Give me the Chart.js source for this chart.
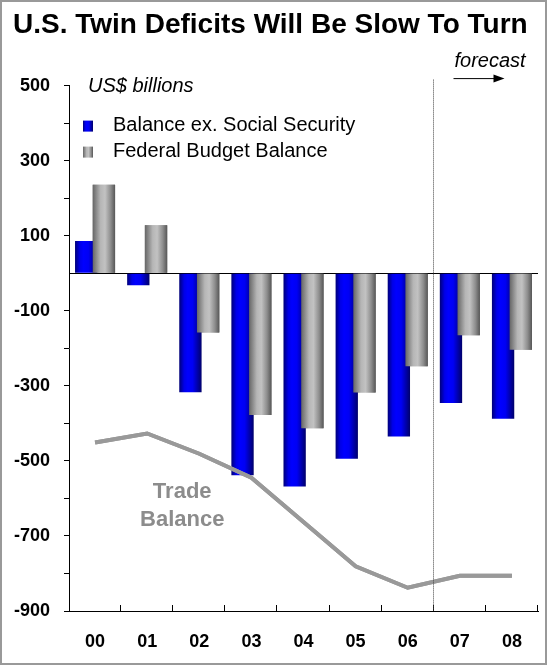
<!DOCTYPE html>
<html>
<head>
<meta charset="utf-8">
<title>U.S. Twin Deficits</title>
<script src="https://cdn.jsdelivr.net/npm/chart.js@4.4.0/dist/chart.umd.min.js"></script>
<style>
  html, body { margin: 0; padding: 0; background: #fff; }
  #wrap { position: relative; width: 547px; height: 666px; }
</style>
</head>
<body>
<div id="wrap"><canvas id="myChart"></canvas></div>
<script>
// fiscal years, US$ billions
const years = ['00', '01', '02', '03', '04', '05', '06', '07', '08'];
const balanceExSS = [86, -32, -317, -538, -568, -494, -435, -346, -388];
const federalBudget = [236, 128, -158, -378, -413, -318, -248, -165, -204];
const tradeBalance = [-451, -427, -481, -545, -663, -781, -838, -806, -806];

const yMin = -900, yMax = 500, yStep = 100;
const yLabelStep = 200;
const forecastFrom = 7; // index of first forecast year

const FONT = '"Liberation Sans", Arial, Helvetica, sans-serif';
const CAT_PCT = 0.68, BAR_PCT = 1.26;

// horizontal shading across each bar, like a cylinder
const blueStops = [[0, '#000078'], [0.22, '#0000e8'], [0.38, '#0000ff'], [0.6, '#0000f4'], [1, '#00006a']];
const grayStops = [[0, '#666666'], [0.35, '#b6b6b6'], [0.55, '#c2c2c2'], [0.8, '#8e8e8e'], [1, '#575757']];

function shade(ctx, x0, x1, stops) {
  const g = ctx.createLinearGradient(x0, 0, x1, 0);
  stops.forEach(s => g.addColorStop(s[0], s[1]));
  return g;
}

function barFill(stops, side) {
  return function (c) {
    const chart = c.chart;
    const x = chart.scales && chart.scales.x;
    if (!x || c.dataIndex === undefined) return stops[2][1];
    const cw = x.width / years.length;
    const slot = cw * CAT_PCT / 2;
    const w = slot * BAR_PCT;
    const cx = x.getPixelForValue(c.dataIndex) + side * slot / 2;
    if (!isFinite(cx) || !isFinite(w) || w <= 0) return stops[2][1];
    return shade(chart.ctx, cx - w / 2, cx + w / 2, stops);
  };
}

const extras = {
  id: 'extras',
  afterDatasetsDraw(chart) {
    // gray bars overlap the blue ones, trade line sits above both
    const ctx = chart.ctx, a = chart.chartArea;
    ctx.save();
    ctx.beginPath();
    ctx.rect(a.left, a.top - 2, a.right - a.left, a.bottom - a.top + 4);
    ctx.clip();
    chart.getDatasetMeta(1).controller.draw();
    chart.getDatasetMeta(2).controller.draw();
    ctx.restore();
  },
  afterDraw(chart) {
    const ctx = chart.ctx, a = chart.chartArea;
    const xs = chart.scales.x, ys = chart.scales.y;
    const cw = xs.width / years.length;
    ctx.save();

    // category ticks pointing up from the x axis
    ctx.strokeStyle = '#000';
    ctx.lineWidth = 1;
    for (let i = 1; i <= years.length; i++) {
      const px = Math.round(xs.left + i * cw) - 0.5;
      ctx.beginPath();
      ctx.moveTo(px, a.bottom);
      ctx.lineTo(px, a.bottom - 6);
      ctx.stroke();
    }

    // forecast divider
    const fx = Math.round((xs.getPixelForValue(forecastFrom - 1) + xs.getPixelForValue(forecastFrom)) / 2) - 0.5;
    ctx.strokeStyle = '#444';
    ctx.setLineDash([1, 1]);
    ctx.beginPath();
    ctx.moveTo(fx, a.top - 6);
    ctx.lineTo(fx, a.bottom);
    ctx.stroke();
    ctx.setLineDash([]);

    ctx.fillStyle = '#000';
    ctx.strokeStyle = '#000';
    ctx.font = 'italic 20px ' + FONT;
    ctx.textBaseline = 'middle';
    ctx.textAlign = 'left';
    ctx.fillText('forecast', fx + 21, a.top - 24);
    // arrow
    const ay = a.top - 7;
    ctx.beginPath();
    ctx.moveTo(fx + 20, ay);
    ctx.lineTo(fx + 61, ay);
    ctx.stroke();
    ctx.beginPath();
    ctx.moveTo(fx + 71, ay);
    ctx.lineTo(fx + 60, ay - 4);
    ctx.lineTo(fx + 60, ay + 4);
    ctx.closePath();
    ctx.fill();

    // units
    ctx.fillText('US$ billions', a.left + 19, ys.getPixelForValue(yMax) + 1);

    // legend
    const ds = chart.data.datasets;
    const legendRows = [[ds[0].label, blueStops], [ds[1].label, grayStops]];
    ctx.font = '20px ' + FONT;
    legendRows.forEach((r, i) => {
      const ly = a.top + 40 + i * 26;
      const sx = a.left + 14;
      ctx.fillStyle = shade(ctx, sx, sx + 10, r[1]);
      ctx.fillRect(sx, ly - 5, 10, 11);
      ctx.fillStyle = '#000';
      ctx.fillText(r[0], a.left + 44, ly);
    });

    // trade line label
    ctx.fillStyle = '#8c8c8c';
    ctx.font = 'bold 22px ' + FONT;
    ctx.textAlign = 'center';
    const tx = (xs.getPixelForValue(1) + xs.getPixelForValue(2)) / 2 + 9;
    ctx.fillText('Trade', tx, ys.getPixelForValue(-583));
    ctx.fillText(ds[2].label.split(' ')[1], tx, ys.getPixelForValue(-657));

    // frame
    ctx.strokeStyle = '#999';
    ctx.lineWidth = 2;
    ctx.strokeRect(1, 1, chart.width - 2, chart.height - 3);
    ctx.restore();
  }
};

const chart = new Chart(document.getElementById('myChart'), {
  type: 'bar',
  data: {
    labels: years,
    datasets: [
      {
        label: 'Balance ex. Social Security',
        data: balanceExSS,
        backgroundColor: barFill(blueStops, -1),
        borderWidth: 0,
        categoryPercentage: CAT_PCT,
        barPercentage: BAR_PCT
      },
      {
        label: 'Federal Budget Balance',
        data: federalBudget,
        backgroundColor: barFill(grayStops, 1),
        borderWidth: 0,
        categoryPercentage: CAT_PCT,
        barPercentage: BAR_PCT
      },
      {
        type: 'line',
        label: 'Trade Balance',
        data: tradeBalance,
        borderColor: '#999999',
        borderWidth: 4,
        pointRadius: 0,
        tension: 0,
        fill: false,
        order: -1
      }
    ]
  },
  options: {
    responsive: true,
    maintainAspectRatio: false,
    animation: false,
    devicePixelRatio: 1,
    layout: { padding: { left: 13, right: 9, top: 0, bottom: 0 } },
    plugins: {
      legend: { display: false },
      tooltip: { enabled: false },
      title: {
        display: true,
        text: 'U.S. Twin Deficits Will Be Slow To Turn',
        align: 'start',
        color: '#000',
        font: { family: FONT, size: 28, weight: 'bold' },
        padding: { top: 8, bottom: 44 }
      }
    },
    scales: {
      x: {
        grid: { display: false, drawTicks: false },
        border: { display: true, color: '#000', width: 1 },
        ticks: {
          color: '#000',
          padding: 20,
          font: { family: FONT, size: 18, weight: 'bold' }
        },
        afterFit: s => { s.height = 55; }
      },
      y: {
        min: yMin,
        max: yMax,
        grid: {
          drawOnChartArea: true,
          color: c => (c.tick && c.tick.value === 0 ? '#000' : 'rgba(0,0,0,0)'),
          tickColor: c => (c.tick && c.tick.value === 0 ? 'rgba(0,0,0,0)' : '#000'),
          tickLength: 5,
          lineWidth: 1
        },
        border: { display: true, color: '#000', width: 1 },
        ticks: {
          stepSize: yStep,
          autoSkip: false,
          padding: 14,
          color: '#000',
          font: { family: FONT, size: 18, weight: 'bold' },
          callback: v => ((v - yMin) % yLabelStep === 0 ? v : '')
        },
        afterFit: s => { s.width = 56; }
      }
    }
  },
  plugins: [extras]
});
</script>
</body>
</html>
